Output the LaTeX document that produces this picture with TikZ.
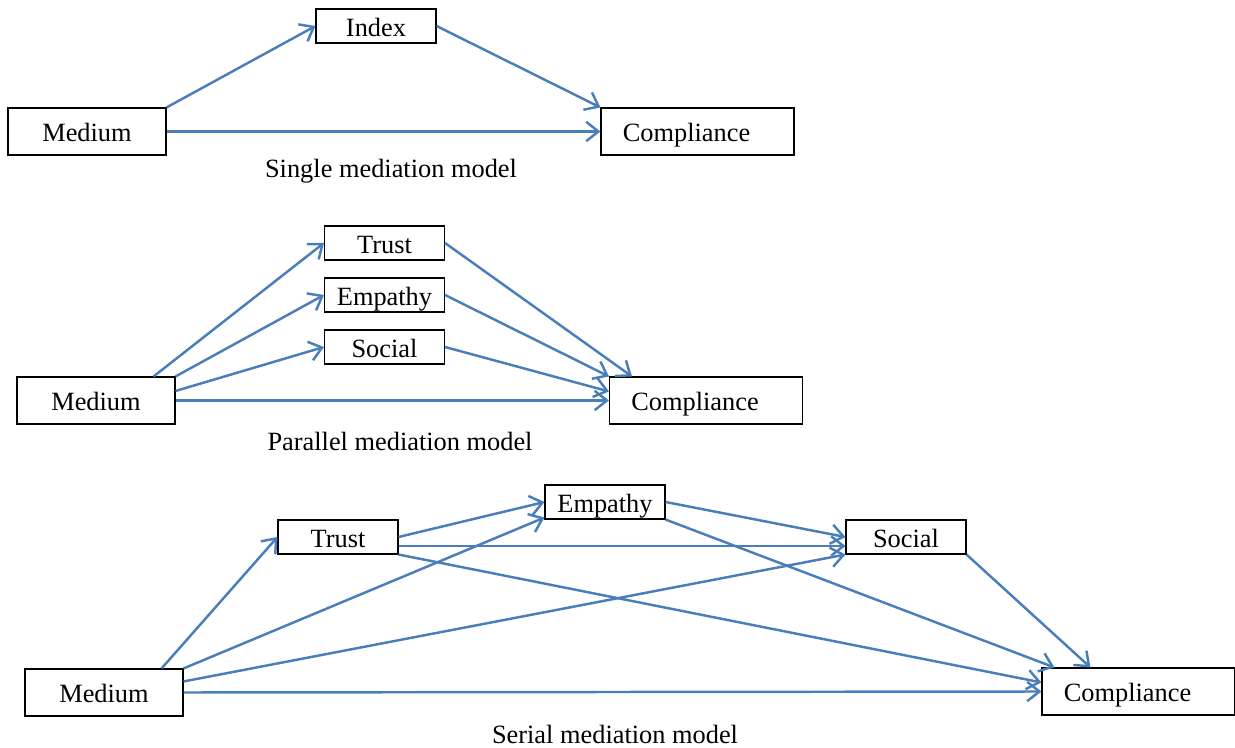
\documentclass[tikz,border=0pt]{standalone}
\usepackage{fontspec}
\setmainfont{Liberation Serif}
\usepackage{tikz}
\usetikzlibrary{positioning,arrows.meta}
\usepackage{xcolor}
\definecolor{pathblue}{RGB}{74,126,187}

\tikzset{
  var/.style={rectangle,draw=black,line width=0.6pt,inner sep=0pt,
              minimum width=2.4cm,minimum height=0.68cm,
              text height=11.6pt,text depth=0pt,font=\fontsize{15}{18}\selectfont},
  xvar/.style={var,minimum width=3.16cm,minimum height=0.94cm},
  yvar/.style={var,minimum width=3.86cm,minimum height=0.94cm,
               execute at begin node={\hspace*{-0.44cm}}},
  caption/.style={font=\fontsize{15}{18}\selectfont},
  path/.style={-{Straight Barb[length=7pt,width=11pt]},line width=1.4pt,draw=pathblue}
}

\begin{document}
\begin{tikzpicture}
\useasboundingbox (0,0) rectangle (24.7,-14.96);
% single mediation
\node[var] (idx) at (7.52,-0.52) {Index};
\node[xvar] (med1) at (1.74,-2.63) {Medium};
\node[yvar] (comp1) at (13.95,-2.63) {Compliance};
\node[caption] (cap1) at (7.82,-3.42) {Single mediation model};
\draw[path] (med1.north east) -- (idx.west);
\draw[path] (idx.east) -- (comp1.north west);
\draw[path] (med1.east) -- (comp1.west);

% parallel mediation
\node[xvar] (med2) at (1.92,-8.01) {Medium};
\node[yvar] (comp2) at (14.12,-8.01) {Compliance};
\node[caption] (cap2) at (8.0,-8.82) {Parallel mediation model};
\foreach \i/\m/\y in {1/Trust/-4.86,2/Empathy/-5.90,3/Social/-6.94} {
  \node[var] (p\i) at (7.69,\y) {\m};
}
\draw[path] ([xshift=-0.44cm]med2.north east) -- (p1.west);
\draw[path] (med2.north east) -- (p2.west);
\draw[path] ([yshift=0.19cm]med2.east) -- (p3.west);
\draw[path] (med2.east) -- (comp2.west);
\draw[path] (p1.east) -- ([xshift=0.46cm]comp2.north west);
\draw[path] (p2.east) -- (comp2.north west);
\draw[path] (p3.east) -- ([yshift=-0.3cm]comp2.north west);

% serial mediation
\node[var] (trust3) at (6.76,-10.74) {Trust};
\node[var] (emp3) at (12.10,-10.04) {Empathy};
\node[var] (soc3) at (18.12,-10.74) {Social};
\node[xvar] (med3) at (2.08,-13.85) {Medium};
\node[yvar] (comp3) at (22.77,-13.83) {Compliance};
\node[caption] (cap3) at (12.30,-14.68) {Serial mediation model};
\draw[path] ([xshift=-0.44cm]med3.north east) -- (trust3.west);
\draw[path] (med3.north east) -- ([yshift=0.04cm]emp3.south west);
\draw[path] ([yshift=-0.26cm]med3.north east) -- (soc3.south west);
\draw[path] (med3.east) -- (comp3.west);
\draw[path] (trust3.east) -- (emp3.west);
\draw[path] ([yshift=-0.18cm]trust3.east) -- ([yshift=-0.18cm]soc3.west);
\draw[path] (trust3.south east) -- ([yshift=-0.3cm]comp3.north west);
\draw[path] (emp3.east) -- (soc3.west);
\draw[path] (emp3.south east) -- ([xshift=0.26cm]comp3.north west);
\draw[path] (soc3.south east) -- ([xshift=0.98cm]comp3.north west);
\end{tikzpicture}
\end{document}
